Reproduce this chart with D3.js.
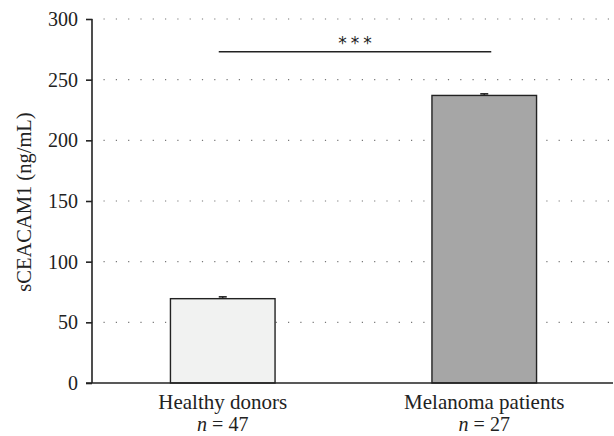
<!DOCTYPE html>
<html>
<head>
<meta charset="utf-8">
<script src="https://cdn.jsdelivr.net/npm/d3@7"></script>
<style>
  body { margin: 0; background: #fff; }
  text { font-family: "Liberation Serif", "DejaVu Serif", serif; fill: #222; }
</style>
</head>
<body>
<div id="chart"></div>
<script>
// Data
const categories = ["Healthy donors", "Melanoma patients"];
const sampleSizes = ["n = 47", "n = 27"];
const means = [69.5, 237];
const errors = [1.5, 1.3];
const barColors = ["#f1f2f1", "#a6a6a6"];
const yTicks = [0, 50, 100, 150, 200, 250, 300];
const sigLevel = 273; // y value of the significance bracket
const sigLabel = "***";

const W = 614, H = 436;
const margin = { top: 19, right: 1, bottom: 53, left: 92 };
const width = W - margin.left - margin.right;
const height = H - margin.top - margin.bottom;

const svg = d3.select("#chart").append("svg")
  .attr("width", W).attr("height", H)
  .append("g")
  .attr("transform", `translate(${margin.left},${margin.top})`);

const y = d3.scaleLinear().domain([0, 300]).range([height, 0]);
const x = d3.scaleBand().domain(categories).range([0, 523]).paddingInner(0.6).paddingOuter(0.3);

// dotted gridlines
svg.append("g").selectAll("line")
  .data(yTicks.filter(d => d > 0))
  .join("line")
  .attr("x1", 0).attr("x2", width)
  .attr("y1", d => y(d)).attr("y2", d => y(d))
  .attr("stroke", "#777")
  .attr("stroke-width", 1.2)
  .attr("stroke-dasharray", "1.2,11.1")
  .attr("stroke-dashoffset", -11.5);

// bars
svg.selectAll("rect.bar")
  .data(categories)
  .join("rect")
  .attr("class", "bar")
  .attr("x", d => x(d))
  .attr("y", (d, i) => y(means[i]))
  .attr("width", x.bandwidth())
  .attr("height", (d, i) => height - y(means[i]))
  .attr("fill", (d, i) => barColors[i])
  .attr("stroke", "#222")
  .attr("stroke-width", 1.4);

// error bars
const eb = svg.append("g");
categories.forEach((c, i) => {
  const cx = x(c) + x.bandwidth() / 2;
  eb.append("line")
    .attr("x1", cx).attr("x2", cx)
    .attr("y1", y(means[i])).attr("y2", y(means[i] + errors[i]))
    .attr("stroke", "#222").attr("stroke-width", 1.4);
  eb.append("line")
    .attr("x1", cx - 4).attr("x2", cx + 4)
    .attr("y1", y(means[i] + errors[i])).attr("y2", y(means[i] + errors[i]))
    .attr("stroke", "#222").attr("stroke-width", 1.6);
});

// y axis
const yAxis = d3.axisLeft(y).tickValues(yTicks).tickSize(6).tickPadding(8);
const yG = svg.append("g").call(yAxis);
yG.select(".domain").attr("stroke", "#222").attr("stroke-width", 1.6).attr("d", `M0,${y(300)}V${height}`);
yG.selectAll(".tick line").attr("stroke", "#222").attr("stroke-width", 1.6);
yG.selectAll(".tick text").style("font-size", "20px").attr("fill", "#222")
  .style("font-family", '"Liberation Serif", serif');

// x axis baseline
svg.append("line")
  .attr("x1", -6).attr("x2", width)
  .attr("y1", height).attr("y2", height)
  .attr("stroke", "#222").attr("stroke-width", 1.6);

// category labels
const lab = svg.append("g");
categories.forEach((c, i) => {
  const cx = x(c) + x.bandwidth() / 2;
  lab.append("text")
    .attr("x", cx).attr("y", height + 26)
    .attr("text-anchor", "middle")
    .style("font-size", "21px")
    .text(c);
  const t = lab.append("text")
    .attr("x", cx).attr("y", height + 48)
    .attr("text-anchor", "middle")
    .style("font-size", "20px");
  const parts = sampleSizes[i].split(" ");
  t.append("tspan").style("font-style", "italic").text(parts[0]);
  t.append("tspan").text(" " + parts.slice(1).join(" "));
});

// y label
svg.append("text")
  .attr("transform", `translate(${24 - margin.left},${(y(300) + height) / 2 + 1}) rotate(-90)`)
  .attr("text-anchor", "middle")
  .attr("dy", "0.35em")
  .style("font-size", "20.5px")
  .text("sCEACAM1 (ng/mL)");

// significance bracket
const x0 = x(categories[0]) + x.bandwidth() / 2 - 4;
const x1 = x(categories[1]) + x.bandwidth() / 2 + 7;
svg.append("line")
  .attr("x1", x0).attr("x2", x1)
  .attr("y1", y(sigLevel)).attr("y2", y(sigLevel))
  .attr("stroke", "#222").attr("stroke-width", 1.3);
svg.append("text")
  .attr("x", (x0 + x1) / 2 + 2).attr("y", y(sigLevel) - 3)
  .attr("text-anchor", "middle")
  .style("font-size", "17px")
  .style("font-family", '"DejaVu Sans", sans-serif')
  .style("letter-spacing", "4px")
  .text(sigLabel);
</script>
</body>
</html>
